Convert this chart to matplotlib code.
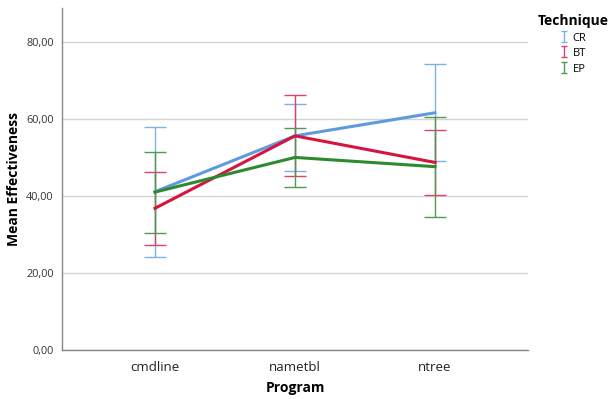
import matplotlib
matplotlib.use("Agg")
import matplotlib.pyplot as plt
import numpy as np
from matplotlib.ticker import FuncFormatter

plt.rcParams['font.family'] = ['Open Sans', 'DejaVu Sans']

programs = ['cmdline', 'nametbl', 'ntree']
techniques = ['CR', 'BT', 'EP']

# means and error bar ends
means = {'CR': [41.1, 55.6, 61.6],
         'BT': [36.8, 55.6, 48.7],
         'EP': [41.0, 50.0, 47.6]}
upper = {'CR': [57.8, 63.8, 74.2],
         'BT': [46.1, 66.1, 57.1],
         'EP': [51.3, 57.6, 60.6]}
lower = {'CR': [24.2, 46.6, 49.0],
         'BT': [27.3, 45.1, 40.3],
         'EP': [30.3, 42.4, 34.6]}

line_col = {'CR': '#5f9ae0', 'BT': '#d4153f', 'EP': '#2e8a2e'}
bar_col = {'CR': '#7fb0e8', 'BT': '#d9456a', 'EP': '#4e9a4e'}

fig = plt.figure(figsize=(6.09, 3.99), dpi=100)
ax = fig.add_axes([62/609, 49/399, 466/609, 342/399])

x = np.arange(len(programs))
handles = []
for t in techniques:
    m = np.array(means[t])
    err = [m - np.array(lower[t]), np.array(upper[t]) - m]
    ax.errorbar(x, m, yerr=err, fmt='none', ecolor=bar_col[t],
                elinewidth=1.0, capsize=8, capthick=1.0, zorder=2)
    ax.plot(x, m, color=line_col[t], lw=2.2, zorder=3)
    # small proxy for the legend icon
    h = ax.errorbar([np.nan], [np.nan], yerr=[1], fmt='none', ecolor=bar_col[t],
                    elinewidth=1.0, capsize=2.5, capthick=1.0)
    handles.append(h)

ax.set_xlim(-0.664, 2.664)
ax.set_ylim(0, 88.8)
ax.set_yticks([0, 20, 40, 60, 80])
ax.yaxis.set_major_formatter(FuncFormatter(lambda v, p: f"{v:.2f}".replace('.', ',')))
ax.set_xticks(x)
ax.set_xticklabels(programs, fontsize=9.5, color='#222222')
ax.tick_params(axis='y', length=0, labelsize=7.8, labelcolor='#333333', pad=6)
ax.tick_params(axis='x', length=0, pad=8)
ax.grid(axis='y', color='#d4d4d4', lw=1.0)
ax.set_axisbelow(True)
for s in ['top', 'right']:
    ax.spines[s].set_visible(False)
for s in ['left', 'bottom']:
    ax.spines[s].set_color('#888888')
    ax.spines[s].set_linewidth(1.0)

ax.set_xlabel('Program', fontsize=10, fontweight='bold', labelpad=5)
ax.set_ylabel('Mean Effectiveness', fontsize=10, fontweight='bold', labelpad=4)

leg = fig.legend(handles, techniques, loc='upper left',
                 bbox_to_anchor=(530/609, 1 - 6/399), frameon=False,
                 title='Technique', fontsize=8, handlelength=0.6,
                 handleheight=1.1, handletextpad=0.5, labelspacing=0.3,
                 borderpad=0.2)
leg.get_title().set_fontweight('bold')
leg.get_title().set_fontsize(10)
leg._legend_box.align = 'center'
leg._legend_box.sep = 3

fig.savefig('out.png', dpi=100)
